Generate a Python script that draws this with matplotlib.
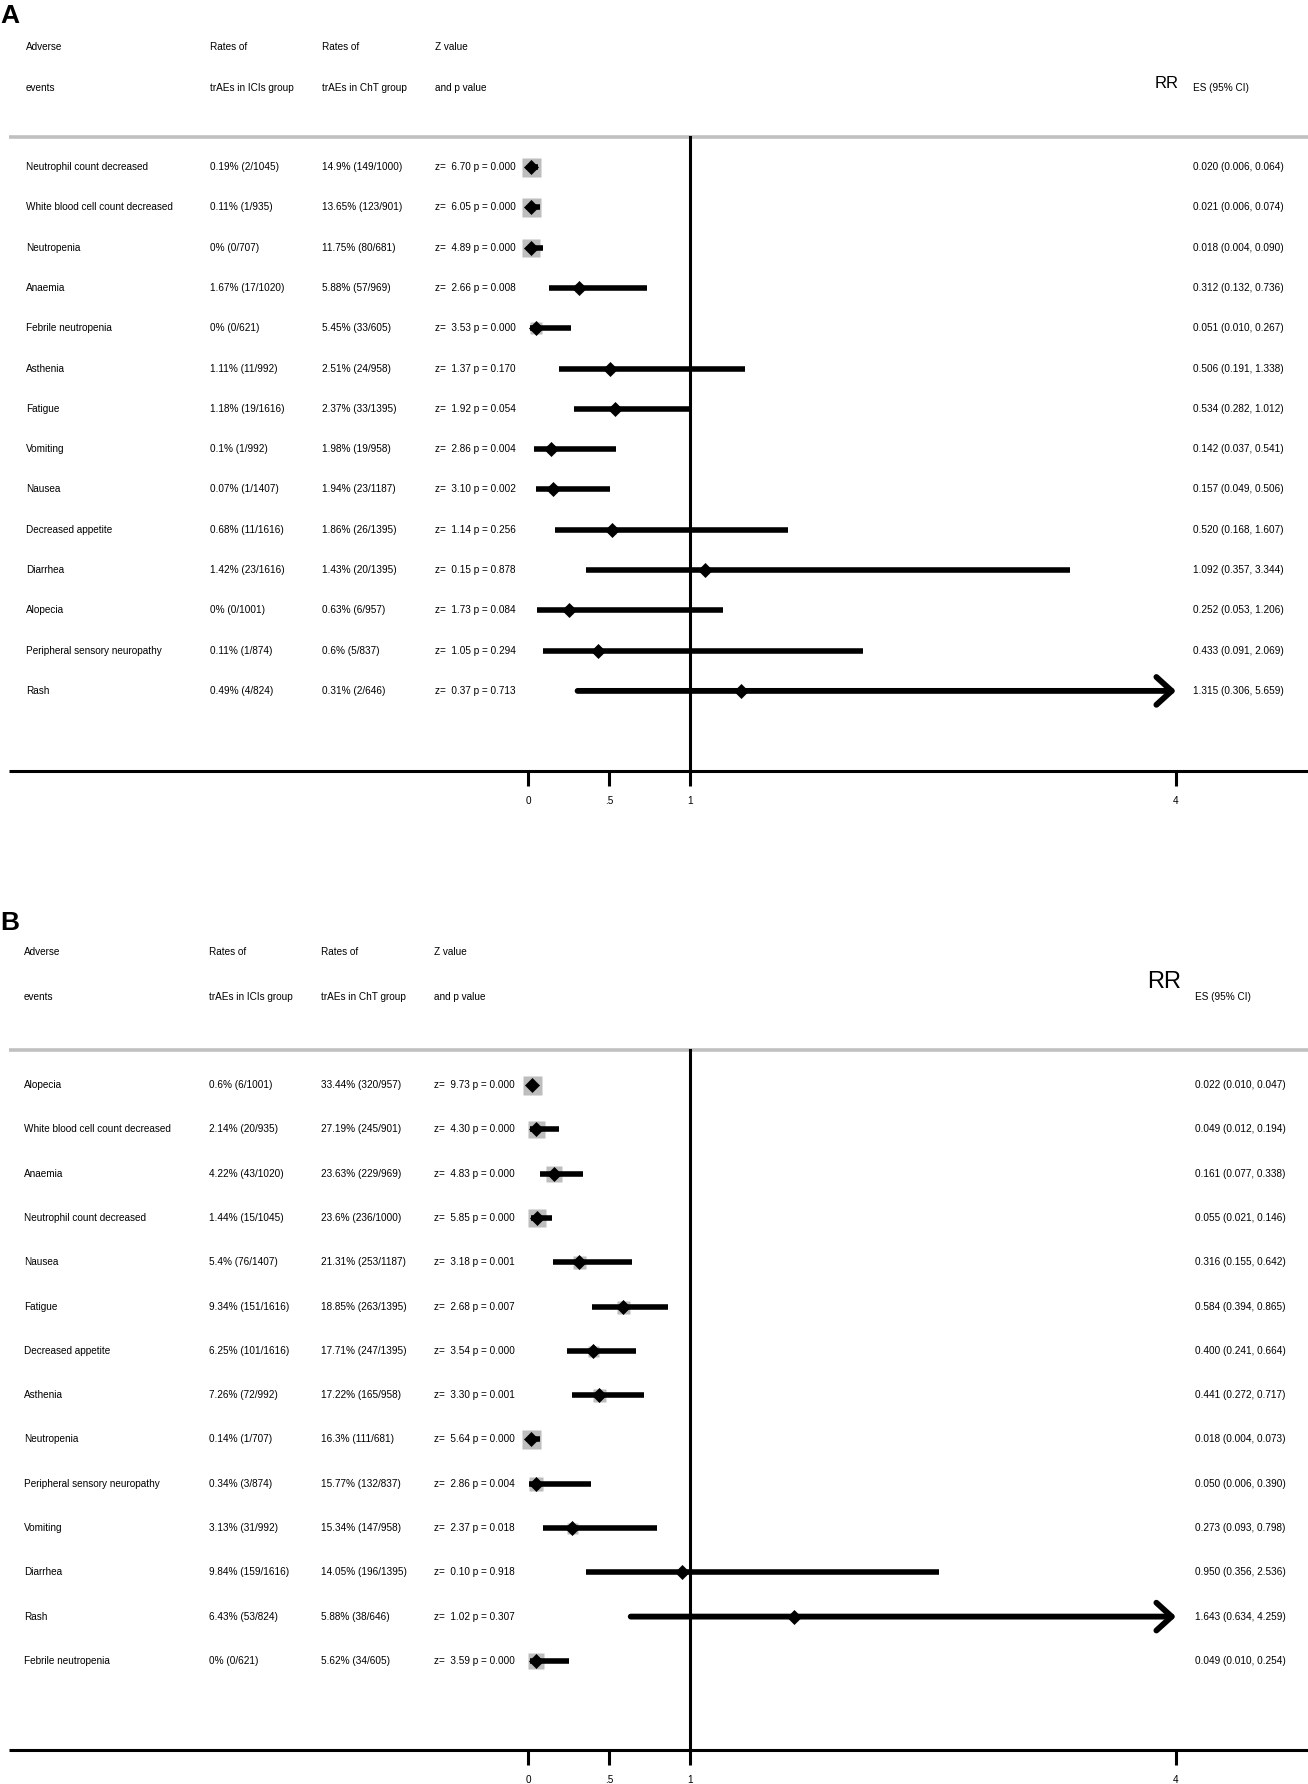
import matplotlib
matplotlib.use('Agg')
import matplotlib.pyplot as plt

plt.rcParams['font.family'] = ['Liberation Sans', 'DejaVu Sans']

# ---- panel A data ----
a_events = ['Neutrophil count decreased', 'White blood cell count decreased', 'Neutropenia',
            'Anaemia', 'Febrile neutropenia', 'Asthenia', 'Fatigue', 'Vomiting', 'Nausea',
            'Decreased appetite', 'Diarrhea', 'Alopecia', 'Peripheral sensory neuropathy', 'Rash']
a_ici = ['0.19% (2/1045)', '0.11% (1/935)', '0% (0/707)', '1.67% (17/1020)', '0% (0/621)',
         '1.11% (11/992)', '1.18% (19/1616)', '0.1% (1/992)', '0.07% (1/1407)', '0.68% (11/1616)',
         '1.42% (23/1616)', '0% (0/1001)', '0.11% (1/874)', '0.49% (4/824)']
a_cht = ['14.9% (149/1000)', '13.65% (123/901)', '11.75% (80/681)', '5.88% (57/969)',
         '5.45% (33/605)', '2.51% (24/958)', '2.37% (33/1395)', '1.98% (19/958)',
         '1.94% (23/1187)', '1.86% (26/1395)', '1.43% (20/1395)', '0.63% (6/957)',
         '0.6% (5/837)', '0.31% (2/646)']
a_z = [6.70, 6.05, 4.89, 2.66, 3.53, 1.37, 1.92, 2.86, 3.10, 1.14, 0.15, 1.73, 1.05, 0.37]
a_p = [0.000, 0.000, 0.000, 0.008, 0.000, 0.170, 0.054, 0.004, 0.002, 0.256, 0.878, 0.084, 0.294, 0.713]
a_rr = [0.020, 0.021, 0.018, 0.312, 0.051, 0.506, 0.534, 0.142, 0.157, 0.520, 1.092, 0.252, 0.433, 1.315]
a_lo = [0.006, 0.006, 0.004, 0.132, 0.010, 0.191, 0.282, 0.037, 0.049, 0.168, 0.357, 0.053, 0.091, 0.306]
a_hi = [0.064, 0.074, 0.090, 0.736, 0.267, 1.338, 1.012, 0.541, 0.506, 1.607, 3.344, 1.206, 2.069, 5.659]
a_box = [19, 19, 18, 8, 12, 7, 7, 8, 8, 7, 6, 8, 7, 6]   # weight boxes, px

# ---- panel B data ----
b_events = ['Alopecia', 'White blood cell count decreased', 'Anaemia', 'Neutrophil count decreased',
            'Nausea', 'Fatigue', 'Decreased appetite', 'Asthenia', 'Neutropenia',
            'Peripheral sensory neuropathy', 'Vomiting', 'Diarrhea', 'Rash', 'Febrile neutropenia']
b_ici = ['0.6% (6/1001)', '2.14% (20/935)', '4.22% (43/1020)', '1.44% (15/1045)', '5.4% (76/1407)',
         '9.34% (151/1616)', '6.25% (101/1616)', '7.26% (72/992)', '0.14% (1/707)', '0.34% (3/874)',
         '3.13% (31/992)', '9.84% (159/1616)', '6.43% (53/824)', '0% (0/621)']
b_cht = ['33.44% (320/957)', '27.19% (245/901)', '23.63% (229/969)', '23.6% (236/1000)',
         '21.31% (253/1187)', '18.85% (263/1395)', '17.71% (247/1395)', '17.22% (165/958)',
         '16.3% (111/681)', '15.77% (132/837)', '15.34% (147/958)', '14.05% (196/1395)',
         '5.88% (38/646)', '5.62% (34/605)']
b_z = [9.73, 4.30, 4.83, 5.85, 3.18, 2.68, 3.54, 3.30, 5.64, 2.86, 2.37, 0.10, 1.02, 3.59]
b_p = [0.000, 0.000, 0.000, 0.000, 0.001, 0.007, 0.000, 0.001, 0.000, 0.004, 0.018, 0.918, 0.307, 0.000]
b_rr = [0.022, 0.049, 0.161, 0.055, 0.316, 0.584, 0.400, 0.441, 0.018, 0.050, 0.273, 0.950, 1.643, 0.049]
b_lo = [0.010, 0.012, 0.077, 0.021, 0.155, 0.394, 0.241, 0.272, 0.004, 0.006, 0.093, 0.356, 0.634, 0.010]
b_hi = [0.047, 0.194, 0.338, 0.146, 0.642, 0.865, 0.664, 0.717, 0.073, 0.390, 0.798, 2.536, 4.259, 0.254]
b_box = [19, 17, 16, 18, 13, 13, 11, 13, 19, 14, 11, 7, 7, 16]

ticks = [0, 0.5, 1, 4]
tick_labels = ['0', '.5', '1', '4']
XMAX = 4

W, H = 1308, 1784
fig = plt.figure(figsize=(W / 100, H / 100), dpi=100)
ax = fig.add_axes([0, 0, 1, 1])
# 0 -> 528 px, 4 -> 1176 px
PX0, UNIT = 528, 162
ax.set_xlim(-PX0 / UNIT, (W - PX0) / UNIT)
ax.set_ylim(H, 0)
ax.axis('off')


def X(px):
    return (px - PX0) / UNIT


FS = 7.2


def panel(label, y_lab, hdr1, hdr2, rr_fs, rr_x, rr_y, col_x, es_x, gray_y, y0, dy, axis_y,
          events, ici, cht, zs, ps, rr, lo, hi, box):
    ax.text(X(0), y_lab, label, fontsize=19, fontweight='bold', ha='left', va='center')
    heads = [('Adverse', 'events'), ('Rates of', 'trAEs in ICIs group'),
             ('Rates of', 'trAEs in ChT group'), ('Z value', 'and p value')]
    for cx, (h1, h2) in zip(col_x, heads):
        ax.text(X(cx), hdr1, h1, fontsize=FS, ha='left', va='center')
        ax.text(X(cx), hdr2, h2, fontsize=FS, ha='left', va='center')
    ax.text(X(rr_x), rr_y, 'RR', fontsize=rr_fs, ha='left', va='center')
    ax.text(X(es_x), hdr2, 'ES (95% CI)', fontsize=FS, ha='left', va='center')

    ax.plot([X(9), X(W)], [gray_y, gray_y], color='#c0c0c0', lw=2.6, solid_capstyle='butt')
    ax.plot([1, 1], [gray_y, axis_y], color='black', lw=2.2, zorder=5)
    ax.plot([X(9), X(W)], [axis_y, axis_y], color='black', lw=2.2, solid_capstyle='butt')
    for t, tl in zip(ticks, tick_labels):
        ax.plot([t, t], [axis_y, axis_y + 15], color='black', lw=2.2, solid_capstyle='butt')
        ax.text(t, axis_y + 30, tl, fontsize=FS, ha='center', va='center')

    for i in range(len(events)):
        y = y0 + i * dy
        ax.text(X(col_x[0]), y, events[i], fontsize=FS, ha='left', va='center')
        ax.text(X(col_x[1]), y, ici[i], fontsize=FS, ha='left', va='center')
        ax.text(X(col_x[2]), y, cht[i], fontsize=FS, ha='left', va='center')
        ax.text(X(col_x[3]), y, f'z=  {zs[i]:.2f} p = {ps[i]:.3f}', fontsize=FS, ha='left', va='center')
        ax.text(X(es_x), y, f'{rr[i]:.3f} ({lo[i]:.3f}, {hi[i]:.3f})', fontsize=FS,
                ha='left', va='center')
        ax.plot(rr[i], y, marker='s', ms=box[i] * 0.72, color='#bdbdbd', mec='none', zorder=2)
        if hi[i] > XMAX:
            ax.annotate('', xy=(XMAX, y), xytext=(lo[i], y),
                        arrowprops=dict(arrowstyle='->,head_length=1.1,head_width=1.0', lw=4.2,
                                        color='black', shrinkA=0, shrinkB=0, mutation_scale=10),
                        zorder=3)
        else:
            ax.plot([lo[i], hi[i]], [y, y], color='black', lw=4, solid_capstyle='butt', zorder=3)
        ax.plot(rr[i], y, marker='D', ms=7, color='black', mec='black', mew=0.5, zorder=4)


panel('A', 16, 47, 88, 12, 1155, 84, [26, 210, 322, 435], 1193, 136.5, 167, 40.3, 771,
      a_events, a_ici, a_cht, a_z, a_p, a_rr, a_lo, a_hi, a_box)
panel('B', 923, 952, 997, 17, 1147, 982, [24, 209, 321, 434], 1195, 1050, 1085, 44.3, 1750,
      b_events, b_ici, b_cht, b_z, b_p, b_rr, b_lo, b_hi, b_box)

fig.savefig('out.png', dpi=100, facecolor='white')
